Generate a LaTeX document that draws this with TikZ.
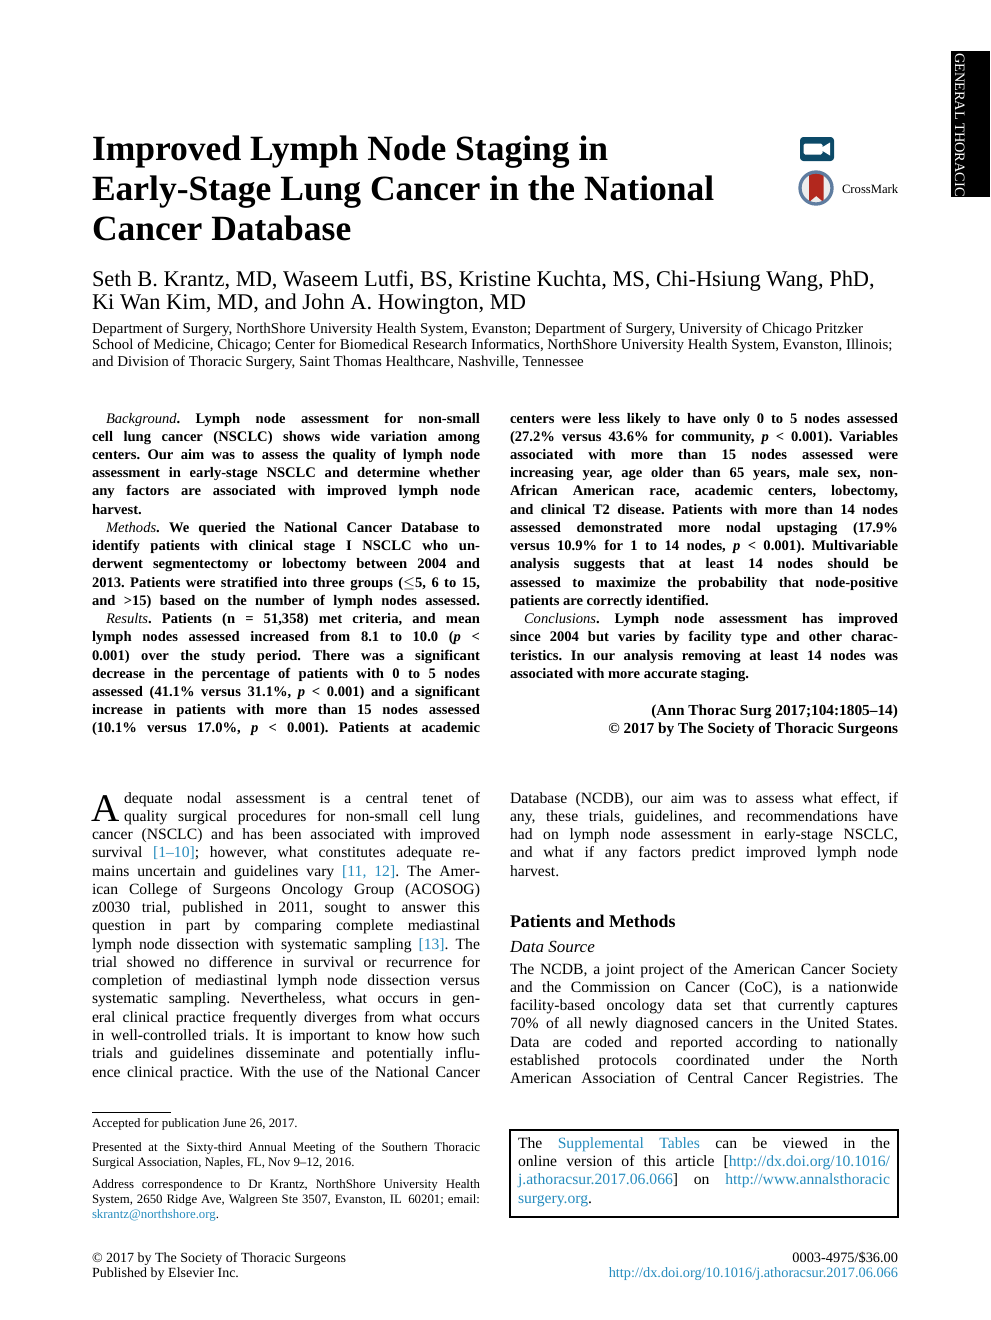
\documentclass[tikz,border=0pt]{standalone}
\usepackage{fontspec}
\setmainfont{Liberation Serif}
\definecolor{linkblue}{RGB}{38,140,190}
\definecolor{vidblue}{RGB}{12,74,104}
\definecolor{crossred}{RGB}{178,40,30}
\definecolor{ringblue}{RGB}{95,125,160}
\newlength\cw \setlength\cw{232.8pt}
\newlength\myind \setlength\myind{8.4pt}
\newcommand\myJ[1]{\hbox to\cw{\strut#1}}
\newcommand\myJi[1]{\hbox to\cw{\strut\hskip\myind#1}}
\newcommand\myL[1]{\hbox{\strut#1}}
\newcommand\lk[1]{\textcolor{linkblue}{#1}}
\newcommand\pp{\textit{p}}
\frenchspacing
\begin{document}
\frenchspacing
\begin{tikzpicture}[x=0.6pt,y=-0.6pt,
  one/.style={anchor=base west,inner sep=0pt,outer sep=0pt},
  body/.style={one,font=\fontsize{9.4}{10.96}\selectfont},
  abst/.style={one,font=\fontsize{8.75}{10.94}\selectfont\bfseries},
  foot/.style={one,font=\fontsize{7.7}{9}\selectfont}]
\useasboundingbox (0,0) rectangle (990,1320);
\fill[white] (0,0) rectangle (990,1320);

% side tab
\fill[black] (951,51) rectangle (990,197);
\node[one,rotate=-90,text=white,font=\fontsize{8.6}{9}\selectfont] (tab) at (955,53) {GENERAL THORACIC};

% title
\node[one,font=\fontsize{21.3}{24}\selectfont\bfseries] (title) at (92,160) {\vtop{%
\myL{Improved Lymph Node Staging in}
\myL{Early-Stage Lung Cancer in the National}
\myL{Cancer Database}}};

% icons
\fill[vidblue,rounded corners=2pt] (800,137) rectangle (834,161);
\fill[white,rounded corners=1pt] (803.5,143.5) rectangle (822.5,154.5);
\fill[white] (821,148) -- (830,142.5) -- (830,155.5) -- (821,150) -- cycle;
\fill[gray!15] (816,188) circle (16.5);
\fill[crossred] (809,173) -- (823.5,173) -- (823.5,202) -- (816.2,196) -- (809,202) -- cycle;
\draw[ringblue,line width=2pt] (816,188) circle (16);
\node[one,font=\fontsize{7.6}{8}\selectfont] (crossmark) at (842,193) {CrossMark};

% authors
\node[one,font=\fontsize{13.45}{13.5}\selectfont] (authors) at (92,286.7) {\vtop{%
\myL{Seth B. Krantz, MD, Waseem Lutfi, BS, Kristine Kuchta, MS, Chi-Hsiung Wang, PhD,}
\myL{Ki Wan Kim, MD, and John A. Howington, MD}}};

% affiliations
\node[one,font=\fontsize{8.97}{9}\selectfont] (affil) at (92,333) {\vtop{%
\myL{Department of Surgery, NorthShore University Health System, Evanston; Department of Surgery, University of Chicago Pritzker}
\myL{School of Medicine, Chicago; Center for Biomedical Research Informatics, NorthShore University Health System, Evanston, Illinois;}
\myL{and Division of Thoracic Surgery, Saint Thomas Healthcare, Nashville, Tennessee}}};

% abstract left
\node[abst] (absleft) at (92,423) {\vtop{%
\myJi{\textit{\mdseries Background}. Lymph node assessment for non-small}
\myJ{cell lung cancer (NSCLC) shows wide variation among}
\myJ{centers. Our aim was to assess the quality of lymph node}
\myJ{assessment in early-stage NSCLC and determine whether}
\myJ{any factors are associated with improved lymph node}
\myL{harvest.}
\myJi{\textit{\mdseries Methods}. We queried the National Cancer Database to}
\myJ{identify patients with clinical stage I NSCLC who un-}
\myJ{derwent segmentectomy or lobectomy between 2004 and}
\myJ{2013. Patients were stratified into three groups ($\le$5, 6 to 15,}
\myJ{and \textgreater 15) based on the number of lymph nodes assessed.}
\myJi{\textit{\mdseries Results}. Patients (n = 51,358) met criteria, and mean}
\myJ{lymph nodes assessed increased from 8.1 to 10.0 (\pp\ \textless}
\myJ{0.001) over the study period. There was a significant}
\myJ{decrease in the percentage of patients with 0 to 5 nodes}
\myJ{assessed (41.1\% versus 31.1\%, \pp\ \textless\ 0.001) and a significant}
\myJ{increase in patients with more than 15 nodes assessed}
\myJ{(10.1\% versus 17.0\%, \pp\ \textless\ 0.001). Patients at academic}}};

% abstract right
\node[abst] (absright) at (510,423) {\vtop{%
\myJ{centers were less likely to have only 0 to 5 nodes assessed}
\myJ{(27.2\% versus 43.6\% for community, \pp\ \textless\ 0.001). Variables}
\myJ{associated with more than 15 nodes assessed were}
\myJ{increasing year, age older than 65 years, male sex, non-}
\myJ{African American race, academic centers, lobectomy,}
\myJ{and clinical T2 disease. Patients with more than 14 nodes}
\myJ{assessed demonstrated more nodal upstaging (17.9\%}
\myJ{versus 10.9\% for 1 to 14 nodes, \pp\ \textless\ 0.001). Multivariable}
\myJ{analysis suggests that at least 14 nodes should be}
\myJ{assessed to maximize the probability that node-positive}
\myL{patients are correctly identified.}
\myJi{\textit{\mdseries Conclusions}. Lymph node assessment has improved}
\myJ{since 2004 but varies by facility type and other charac-}
\myJ{teristics. In our analysis removing at least 14 nodes was}
\myL{associated with more accurate staging.}}};

\node[one,font=\fontsize{9.2}{10.8}\selectfont\bfseries] (citation) at (510,715) {\vtop{%
\myJ{\hfill(Ann Thorac Surg 2017;104:1805--14)}
\myJ{\hfill\textcopyright\ 2017 by The Society of Thoracic Surgeons}}};

% body left
\node[one,font=\fontsize{23.5}{24}\selectfont] (dropcap) at (91,821) {A};
\node[body] (bodylefttop) at (124,803) {\vtop{\setlength\cw{213.6pt}%
\myJ{dequate nodal assessment is a central tenet of}
\myJ{quality surgical procedures for non-small cell lung}}};
\node[body] (bodyleft) at (92,839.54) {\vtop{%
\myJ{cancer (NSCLC) and has been associated with improved}
\myJ{survival \lk{[1--10]}; however, what constitutes adequate re-}
\myJ{mains uncertain and guidelines vary \lk{[11, 12]}. The Amer-}
\myJ{ican College of Surgeons Oncology Group (ACOSOG)}
\myJ{z0030 trial, published in 2011, sought to answer this}
\myJ{question in part by comparing complete mediastinal}
\myJ{lymph node dissection with systematic sampling \lk{[13]}. The}
\myJ{trial showed no difference in survival or recurrence for}
\myJ{completion of mediastinal lymph node dissection versus}
\myJ{systematic sampling. Nevertheless, what occurs in gen-}
\myJ{eral clinical practice frequently diverges from what occurs}
\myJ{in well-controlled trials. It is important to know how such}
\myJ{trials and guidelines disseminate and potentially influ-}
\myJ{ence clinical practice. With the use of the National Cancer}}};

% body right
\node[body] (bodyright) at (510,803) {\vtop{%
\myJ{Database (NCDB), our aim was to assess what effect, if}
\myJ{any, these trials, guidelines, and recommendations have}
\myJ{had on lymph node assessment in early-stage NSCLC,}
\myJ{and what if any factors predict improved lymph node}
\myL{harvest.}}};
\node[one,font=\fontsize{10.7}{12}\selectfont\bfseries] (heading) at (510,927) {Patients and Methods};
\node[one,font=\fontsize{10.2}{12}\selectfont\itshape] (subheading) at (510,952) {Data Source};
\node[body] (ncdb) at (510,974) {\vtop{%
\myJ{The NCDB, a joint project of the American Cancer Society}
\myJ{and the Commission on Cancer (CoC), is a nationwide}
\myJ{facility-based oncology data set that currently captures}
\myJ{70\% of all newly diagnosed cancers in the United States.}
\myJ{Data are coded and reported according to nationally}
\myJ{established protocols coordinated under the North}
\myJ{American Association of Central Cancer Registries. The}}};

% footnotes
\draw[line width=0.5pt] (92,1112) -- (171,1112);
\node[foot] (accepted) at (92,1127) {Accepted for publication June 26, 2017.};
\node[foot] (presented) at (92,1151) {\vtop{%
\myJ{Presented at the Sixty-third Annual Meeting of the Southern Thoracic}
\myL{Surgical Association, Naples, FL, Nov 9--12, 2016.}}};
\node[foot] (address) at (92,1188) {\vtop{%
\myJ{Address correspondence to Dr Krantz, NorthShore University Health}
\myJ{System, 2650 Ridge Ave, Walgreen Ste 3507, Evanston, IL\enspace 60201; email:}
\myL{\lk{skrantz@northshore.org}.}}};

% supplemental box
\draw[line width=1.5pt] (510,1130) rectangle (898,1217);
\node[one,font=\fontsize{9.4}{11}\selectfont] (supp) at (518,1148) {\vtop{\setlength\cw{223.2pt}%
\myJ{The \lk{Supplemental Tables} can be viewed in the}
\myJ{online version of this article [\lk{http://dx.doi.org/10.1016/}}
\myJ{\lk{j.athoracsur.2017.06.066}] on \lk{http://www.annalsthoracic}}
\myL{\lk{surgery.org}.}}};

% bottom
\node[one,font=\fontsize{8.4}{9}\selectfont] (copyright) at (92,1262) {\vtop{%
\myL{\textcopyright\ 2017 by The Society of Thoracic Surgeons}
\myL{Published by Elsevier Inc.}}};
\node[one,font=\fontsize{8.6}{9}\selectfont] (issn) at (510,1262) {\vtop{%
\myJ{\hfill 0003-4975/\$36.00}
\myJ{\hfill\lk{http://dx.doi.org/10.1016/j.athoracsur.2017.06.066}}}};
\end{tikzpicture}
\end{document}
